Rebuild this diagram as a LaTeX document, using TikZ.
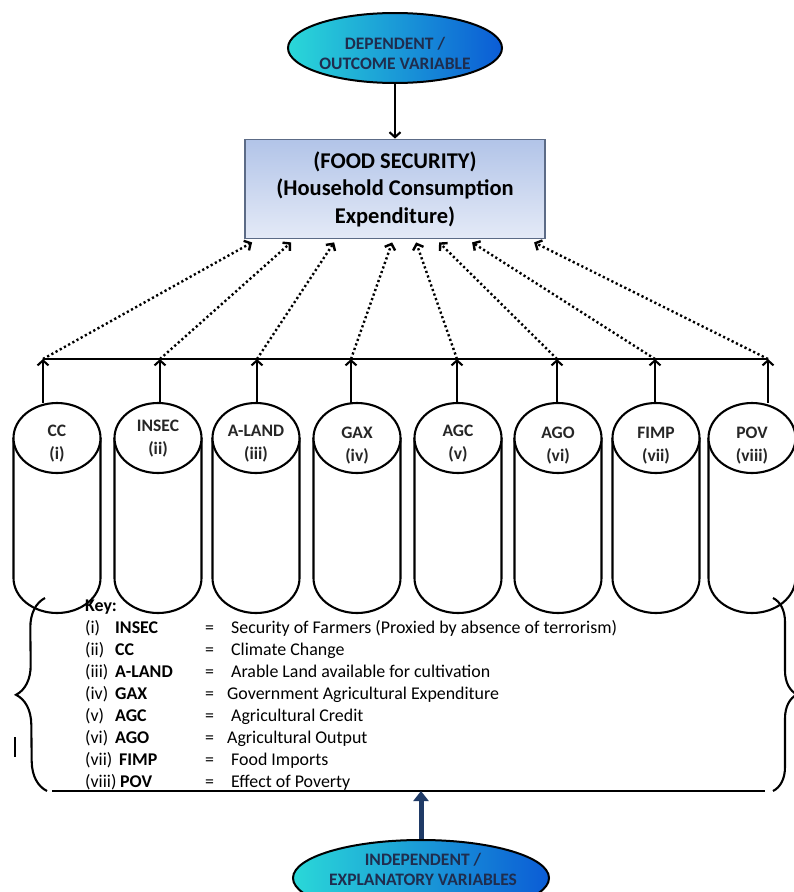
\documentclass[tikz,border=0pt]{standalone}
\usepackage{fontspec}
\setmainfont{Carlito}
\usetikzlibrary{arrows.meta,positioning,calc,shapes.geometric,decorations.pathreplacing}
\definecolor{fsNavy}{HTML}{1F2D4E}
\definecolor{fsCyan}{HTML}{2AD8D8}
\definecolor{fsBlue}{HTML}{0B5CD6}
\definecolor{fsBoxTop}{HTML}{B2C4E8}
\definecolor{fsBoxBot}{HTML}{E4EAF7}
\definecolor{fsEdge}{HTML}{5C6B86}
\definecolor{fsArrow}{HTML}{1F3A66}
\newcommand{\keyrow}[3]{\makebox[30pt][l]{#1}\makebox[90pt][l]{\textbf{#2}}\makebox[26pt][l]{=}#3}
% a drum: x of its axis, name of the point on its top
\newcommand{\drum}[2]{%
  \draw[fs/drum] (#1-43.5,438) -- (#1-43.5,578) arc (180:0:43.5 and 35) -- (#1+43.5,438);
  \draw[fs/drum] (#1,438) ellipse (43.5 and 35);
  \coordinate (#2) at (#1,403);}
\tikzset{
  % ovals for the two variable groups
  fs/oval/.style={
    ellipse, draw=black, line width=2pt, left color=fsCyan, right color=fsBlue,
    inner sep=0pt
  },
  fs/ovaltext/.style={
    align=center, text=fsNavy, inner sep=0pt,
    font=\fontsize{17.5}{20}\selectfont\bfseries
  },
  % the outcome box
  fs/box/.style={
    draw=fsEdge, line width=1.8pt, top color=fsBoxTop, bottom color=fsBoxBot,
    minimum width=300pt, minimum height=99pt, inner sep=0pt, align=center,
    font=\fontsize{22.5}{27.5}\selectfont\bfseries
  },
  % one drum per explanatory variable
  fs/drum/.style={draw=black, line width=2.1pt, fill=white},
  fs/tag/.style={font=\fontsize{17.5}{23}\selectfont\bfseries, align=center, text=black!85},
  % arrows
  fs/up/.style={-{Straight Barb[length=5pt,width=11pt]}, line width=2.1pt},
  fs/dots/.style={-{Straight Barb[length=5pt,width=11pt]}, line width=2.4pt,
    dash pattern=on 2.2pt off 2.6pt},
  fs/block/.style={-{Triangle[length=10pt,width=15pt]}, line width=5pt, draw=fsArrow},
  fs/curly/.style={decorate, decoration={brace, amplitude=#1}, line width=2.1pt},
}
\begin{document}
\begin{tikzpicture}[x=1pt,y=-1pt]
  \clip (0,0) rectangle (794,892);
  \fill[white] (0,0) rectangle (794,892);
  % top: outcome
  \node[fs/oval, minimum width=214pt, minimum height=70pt] (dep) at (395,48) {};
  \node[fs/ovaltext] (dep-t) at (395,53) {DEPENDENT /\\OUTCOME VARIABLE};
  \node[fs/box] (fs) at (395,189)
       {(FOOD SECURITY)\\(Household Consumption\\Expenditure)};
  \draw[fs/up] (dep.south) -- (fs.north);
  % drums
  \drum{57}{cc}
  \drum{158}{insec}
  \drum{256}{aland}
  \drum{357}{gax}
  \drum{458}{agc}
  \drum{558}{ago}
  \drum{656}{fimp}
  \drum{752}{pov}
  \node[fs/tag] (cc-t)    at (57,444)  {CC\\(i)};
  \node[fs/tag] (insec-t) at (158,439) {INSEC\\(ii)};
  \node[fs/tag] (aland-t) at (256,444) {A-LAND\\(iii)};
  \node[fs/tag] (gax-t)   at (357,446) {GAX\\(iv)};
  \node[fs/tag] (agc-t)   at (458,444) {AGC\\(v)};
  \node[fs/tag] (ago-t)   at (558,446) {AGO\\(vi)};
  \node[fs/tag] (fimp-t)  at (656,446) {FIMP\\(vii)};
  \node[fs/tag] (pov-t)   at (752,446) {POV\\(viii)};
  % collecting line
  \coordinate (j1) at (43,359);  \coordinate (j2) at (160,359);
  \coordinate (j3) at (257,359); \coordinate (j4) at (351,359);
  \coordinate (j5) at (457,359); \coordinate (j6) at (557,359);
  \coordinate (j7) at (655,359); \coordinate (j8) at (768,359);
  \draw[line width=2.1pt] (j1) -- (j8);
  \draw[fs/up] (j1 |- cc) -- (j1);
  \draw[fs/up] (j2 |- insec) -- (j2);
  \draw[fs/up] (j3 |- aland) -- (j3);
  \draw[fs/up] (j4 |- gax) -- (j4);
  \draw[fs/up] (j5 |- agc) -- (j5);
  \draw[fs/up] (j6 |- ago) -- (j6);
  \draw[fs/up] (j7 |- fimp) -- (j7);
  \draw[fs/up] (j8 |- pov) -- (j8);
  \draw[fs/dots] (j1) -- ($(fs.south west)+(8,3)$);
  \draw[fs/dots] (j2) -- ($(fs.south west)+(47,3)$);
  \draw[fs/dots] (j3) -- ($(fs.south west)+(90,3)$);
  \draw[fs/dots] (j4) -- ($(fs.south west)+(148,3)$);
  \draw[fs/dots] (j5) -- ($(fs.south west)+(172,3)$);
  \draw[fs/dots] (j6) -- ($(fs.south west)+(195,3)$);
  \draw[fs/dots] (j7) -- ($(fs.south west)+(228,3)$);
  \draw[fs/dots] (j8) -- ($(fs.south west)+(290,3)$);
  % key
  \node[anchor=north west, inner sep=0pt, align=left,
        font=\fontsize{17.9}{22}\selectfont] (key) at (85,600) {%
    \textbf{Key:}\\
    \keyrow{(i)}{INSEC}{Security of Farmers (Proxied by absence of terrorism)}\\
    \keyrow{(ii)}{CC}{Climate Change}\\
    \keyrow{(iii)}{A-LAND}{Arable Land available for cultivation}\\
    \keyrow{(iv)}{GAX}{\hspace{-4pt}Government Agricultural Expenditure}\\
    \keyrow{(v)}{AGC}{Agricultural Credit}\\
    \keyrow{(vi)}{AGO}{\hspace{-4pt}Agricultural Output}\\
    \keyrow{(vii)}{\hspace{4pt}FIMP}{Food Imports}\\
    \keyrow{(viii)}{\hspace{5pt}POV}{Effect of Poverty}};
  \draw[fs/curly=30] (47,791) -- (45,598);
  \draw[fs/curly=24] (773,598) -- (773,791);
  \draw[line width=1.6pt] (15,737) -- (15,757);
  \coordinate (bl) at (52,791); \coordinate (br) at (765,791);
  \draw[line width=2.4pt] (bl) -- (br);
  % bottom: explanatory
  \node[fs/oval, minimum width=256pt, minimum height=76pt] (indep) at (421,878) {};
  \node[fs/ovaltext] (indep-t) at (423,869)
       {INDEPENDENT /\\EXPLANATORY VARIABLES};
  \draw[fs/block] (indep.north) -- (indep.north |- bl);
\end{tikzpicture}
\end{document}
